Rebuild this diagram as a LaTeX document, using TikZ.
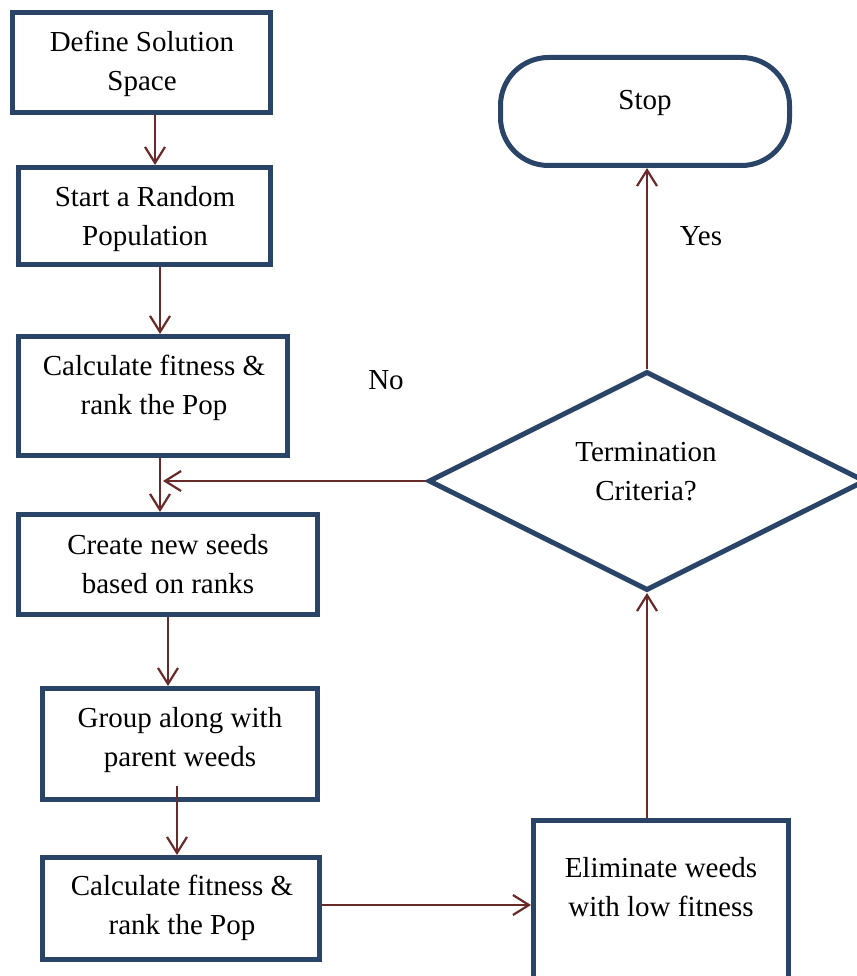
\documentclass[tikz,border=0pt]{standalone}
\usepackage{fontspec}
\setmainfont{Liberation Serif}
\usetikzlibrary{arrows.meta,shapes.geometric}
\definecolor{boxblue}{HTML}{2A4468}
\definecolor{arrred}{HTML}{6B2A2A}
\begin{document}
\begin{tikzpicture}[x=1pt,y=-1pt,
 box/.style={draw=boxblue,line width=5pt,rectangle,inner sep=0pt,fill=white},
 txt/.style={font=\fontsize{29}{39}\selectfont,align=center,inner sep=0pt,yshift=-2.5pt},
 arr/.style={draw=arrred,line width=2.2pt,-{Straight Barb[length=16pt,width=20pt]}}]
\useasboundingbox (0,0) rectangle (856,976);
% shapes
\node[box, minimum width=258pt, minimum height=100pt] (b1) at (141.5,62.5) {};
\node[box, minimum width=252pt, minimum height=97pt] (b2) at (144.5,216) {};
\node[box, minimum width=269pt, minimum height=119pt] (b3) at (153,396) {};
\node[box, minimum width=299pt, minimum height=100pt] (b4) at (168,564.5) {};
\node[box, minimum width=275pt, minimum height=111pt] (b5) at (180,744) {};
\node[box, minimum width=277pt, minimum height=102pt] (b6) at (181,908.5) {};
\node[box, minimum width=255pt, minimum height=180pt] (el) at (661,910) {};
\node[box, rounded corners=48pt, minimum width=289pt, minimum height=108pt] (stop) at (645,111.5) {};
\node[draw=boxblue, line width=5pt, diamond, fill=white, inner sep=0pt,
      minimum width=437pt, minimum height=219pt] (d) at (647,481) {};
% texts
\node[txt] (t1) at (142,61) {Define Solution\\Space};
\node[txt] (t2) at (145,216.5) {Start a Random\\Population};
\node[txt] (t3) at (154,385) {Calculate fitness \&\\rank the Pop};
\node[txt] (t4) at (168,562) {Create new seeds\\based on ranks};
\node[txt] (t5) at (180,737.5) {Group along with\\parent weeds};
\node[txt] (t6) at (182,905.5) {Calculate fitness \&\\rank the Pop};
\node[txt] (t7) at (661,885) {Eliminate weeds\\with low fitness};
\node[txt] (t8) at (645,100) {Stop};
\node[txt] (t9) at (646,469) {Termination\\Criteria?};
\node[txt] (yes) at (701,234) {Yes};
\node[txt] (no) at (386,378) {No};
% connectors
\draw[arr] ([xshift=13.5pt]b1.south) -- ([xshift=13.5pt]b1.south |- b2.north);
\draw[arr] ([xshift=15.5pt]b2.south) -- ([xshift=15.5pt]b2.south |- b3.north);
\draw[arr] ([xshift=7pt]b3.south) -- ([xshift=7pt]b3.south |- b4.north);
\draw[arr] (b4.south) -- (b4.south |- b5.north);
\draw[arr] ([xshift=-3pt,yshift=16pt]b5.south) -- ([xshift=-3pt]b5.south |- b6.north);
\draw[arr] ([yshift=3.5pt]b6.east) -- ([yshift=3.5pt]b6.east -| el.west);
\draw[arr] (d.south |- el.north) -- (d.south);
\draw[arr] (d.north) -- (d.north |- stop.south);
\draw[arr] (d.west) -- ([xshift=10pt]b3.south |- d.west);
\end{tikzpicture}
\end{document}
